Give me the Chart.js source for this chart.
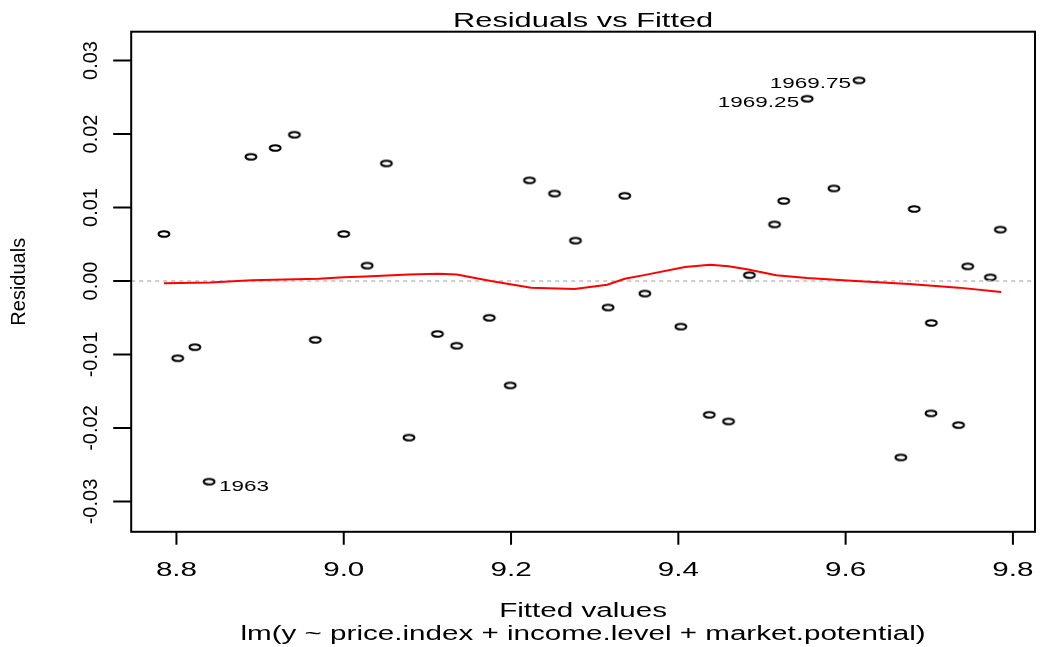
<!DOCTYPE html>
<html>
<head>
<meta charset="utf-8">
<title>Residuals vs Fitted</title>
<script src="https://cdn.jsdelivr.net/npm/chart.js@4.4.0/dist/chart.umd.min.js"></script>
<style>
  html, body { margin: 0; padding: 0; background: #fff; }
  canvas { display: block; }
</style>
</head>
<body>
<canvas id="resid" width="1041" height="647"></canvas>
<script>
// fitted values and residuals of the model, sorted by fitted value
const fitted = [8.785, 8.8015, 8.822, 8.839, 8.889, 8.918, 8.941, 8.966, 9.000, 9.028,
  9.051, 9.078, 9.112, 9.135, 9.174, 9.199, 9.222, 9.252, 9.277, 9.316,
  9.336, 9.360, 9.403, 9.437, 9.460, 9.485, 9.515, 9.526, 9.554, 9.586,
  9.616, 9.666, 9.682, 9.7025, 9.702, 9.735, 9.746, 9.773, 9.785];
const residuals = [0.0064, -0.0105, -0.0090, -0.0273, 0.0169, 0.0181, 0.0199, -0.0080, 0.0064, 0.0021,
  0.0160, -0.0213, -0.0072, -0.0088, -0.0050, -0.0142, 0.0137, 0.0119, 0.0055, -0.0036,
  0.0116, -0.0017, -0.0062, -0.0182, -0.0191, 0.0008, 0.0077, 0.0109, 0.0248, 0.0126,
  0.0273, -0.0240, 0.0098, -0.0057, -0.0180, -0.0196, 0.0020, 0.0005, 0.0070];

// lowess smooth (red curve)
const smoothX = [8.785, 8.84, 8.89, 8.97, 9.00, 9.026, 9.078, 9.113, 9.135, 9.176,
  9.224, 9.276, 9.315, 9.336, 9.359, 9.408, 9.438, 9.460, 9.482, 9.517,
  9.554, 9.612, 9.676, 9.735, 9.786];
const smoothY = [-0.0003, -0.0002, 0.0001, 0.0003, 0.0005, 0.0006, 0.0009, 0.0010, 0.0009, 0.0000,
  -0.0009, -0.0011, -0.0005, 0.0003, 0.0008, 0.0019, 0.0022, 0.0020, 0.0016, 0.0008,
  0.0004, 0.0000, -0.0004, -0.0009, -0.0015];

// labelled outliers: index into fitted/residuals, text, side
const idIndex = [3, 28, 30];
const idText = ['1963', '1969.25', '1969.75'];
const idSide = ['right', 'left', 'left'];

const xTicks = [8.8, 9.0, 9.2, 9.4, 9.6, 9.8];
const xTickLabels = ['8.8', '9.0', '9.2', '9.4', '9.6', '9.8'];
const yTicks = [-0.03, -0.02, -0.01, 0, 0.01, 0.02, 0.03];
const yTickLabels = ['-0.03', '-0.02', '-0.01', '0.00', '0.01', '0.02', '0.03'];

const X_MIN = 8.7459, X_MAX = 9.8264;
const Y_MIN = -0.03412, Y_MAX = 0.03392;

const FONT = '"Liberation Sans", Arial, Helvetica, sans-serif';
const STRETCH = 1.48;

// open circle, a little wider than tall
function makeCircle() {
  const c = document.createElement('canvas');
  c.width = 16;
  c.height = 10;
  const g = c.getContext('2d');
  g.strokeStyle = '#000';
  g.lineWidth = 2.1;
  g.beginPath();
  g.ellipse(8, 5, 5.4, 2.8, 0, 0, Math.PI * 2);
  g.stroke();
  return c;
}

function wideText(ctx, str, x, y, align, size, sx) {
  ctx.save();
  ctx.translate(x, y);
  ctx.scale(sx, 1);
  ctx.font = size + 'px ' + FONT;
  ctx.textAlign = align;
  ctx.textBaseline = 'alphabetic';
  ctx.fillText(str, 0, 0);
  ctx.restore();
}

function upText(ctx, str, x, y, size) {
  ctx.save();
  ctx.translate(x, y);
  ctx.rotate(-Math.PI / 2);
  ctx.font = size + 'px ' + FONT;
  ctx.textAlign = 'center';
  ctx.textBaseline = 'alphabetic';
  ctx.fillText(str, 0, 0);
  ctx.restore();
}

const frame = {
  id: 'frame',
  afterDraw(chart) {
    const { ctx, chartArea: a, scales } = chart;
    const sx = scales.x, sy = scales.y;
    ctx.save();
    ctx.strokeStyle = '#000';
    ctx.fillStyle = '#000';
    ctx.lineWidth = 2;
    ctx.strokeRect(a.left, a.top, a.right - a.left, a.bottom - a.top);

    ctx.beginPath();
    xTicks.forEach(function(v) {
      const px = sx.getPixelForValue(v);
      ctx.moveTo(px, a.bottom);
      ctx.lineTo(px, a.bottom + 13);
    });
    yTicks.forEach(function(v) {
      const py = sy.getPixelForValue(v);
      ctx.moveTo(a.left - 18, py);
      ctx.lineTo(a.left, py);
    });
    ctx.stroke();

    xTicks.forEach(function(v, i) {
      wideText(ctx, xTickLabels[i], sx.getPixelForValue(v), a.bottom + 44, 'center', 20, STRETCH);
    });
    yTicks.forEach(function(v, i) {
      upText(ctx, yTickLabels[i], a.left - 34, sy.getPixelForValue(v), 20);
    });

    const midX = (a.left + a.right) / 2;
    wideText(ctx, 'Residuals vs Fitted', midX, a.top - 5, 'center', 20, 1.54);
    wideText(ctx, 'Fitted values', midX, 617, 'center', 20, STRETCH);
    wideText(ctx, 'lm(y ~ price.index + income.level + market.potential)', midX, 640, 'center', 20, STRETCH);
    upText(ctx, 'Residuals', 25, (a.top + a.bottom) / 2, 20);

    idIndex.forEach(function(k, i) {
      const px = sx.getPixelForValue(fitted[k]);
      const py = sy.getPixelForValue(residuals[k]);
      if (idSide[i] === 'right') {
        wideText(ctx, idText[i], px + 10, py + 9, 'left', 15, 1.5);
      } else {
        wideText(ctx, idText[i], px - 8, py + 8, 'right', 15, 1.5);
      }
    });
    ctx.restore();
  }
};

new Chart(document.getElementById('resid'), {
  type: 'scatter',
  data: {
    datasets: [
      {
        label: 'lowess',
        data: smoothX.map(function(v, i) { return { x: v, y: smoothY[i] }; }),
        showLine: true,
        borderColor: '#ff0000',
        borderWidth: 2,
        pointRadius: 0,
        order: 1
      },
      {
        label: 'zero',
        data: [{ x: X_MIN, y: 0 }, { x: X_MAX, y: 0 }],
        showLine: true,
        borderColor: '#bebebe',
        borderWidth: 1.5,
        borderDash: [4, 4],
        pointRadius: 0,
        order: 2
      },
      {
        label: 'residuals',
        data: fitted.map(function(v, i) { return { x: v, y: residuals[i] }; }),
        pointStyle: makeCircle(),
        pointRadius: 5,
        order: 3
      }
    ]
  },
  options: {
    responsive: false,
    animation: false,
    events: [],
    layout: { padding: { left: 131.2, top: 31.7, right: 1.5, bottom: 115.2 } },
    plugins: { legend: { display: false }, tooltip: { enabled: false } },
    scales: {
      x: { type: 'linear', min: X_MIN, max: X_MAX, display: false },
      y: { type: 'linear', min: Y_MIN, max: Y_MAX, display: false }
    }
  },
  plugins: [frame]
});
</script>
</body>
</html>
